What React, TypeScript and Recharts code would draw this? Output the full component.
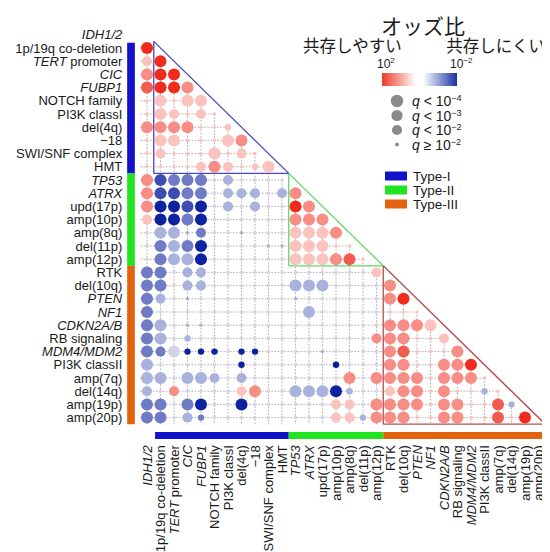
import React from "react";
import { ScatterChart, Scatter, XAxis, YAxis, ReferenceLine, ReferenceArea } from "recharts";

// ---------- data ----------
// "_text_" marks italic parts of a label
const alterations = [
  "_IDH1/2_", "1p/19q co-deletion", "_TERT_ promoter", "_CIC_", "_FUBP1_", "NOTCH family",
  "PI3K classI", "del(4q)", "\u221218", "SWI/SNF complex", "HMT", "_TP53_", "_ATRX_",
  "upd(17p)", "amp(10p)", "amp(8q)", "del(11p)", "amp(12p)", "RTK", "del(10q)", "_PTEN_",
  "_NF1_", "_CDKN2A/B_", "RB signaling", "_MDM4/MDM2_", "PI3K classII", "amp(7q)",
  "del(14q)", "amp(19p)", "amp(20p)",
];

// rows = alterations 2..30, columns = alterations 1..(row-1)
// digit d -> log10(odds ratio) = (d - 4) / 2
const oddsCodes = [
  "8",
  "58",
  "688",
  "7886",
  "55555",
  "555555",
  "6666555",
  "55555556",
  "555555555",
  "5555565555",
  "61222434444",
  "611224333436",
  "6001043434486",
  "50020444444666",
  "433324434445556",
  "4232044443355555",
  "42330444444555675",
  "224334444444444445",
  "2243344444433344446",
  "23434444444344444468",
  "244444444444344444555",
  "2343344444444444456665",
  "23434444444444444666555",
  "224000400444434444675556",
  "3444444044444404446655668",
  "33433343444444464666656665",
  "346444456443330344566565535",
  "2242044044444455466665665573",
  "22432444444444553666556655758",
];

// significance class: 3 q<1e-4, 2 q<1e-3, 1 q<1e-2, 0 q>=1e-2
const qCodes = [
  "3",
  "23",
  "333",
  "3333",
  "03033",
  "032020",
  "3333001",
  "03300033",
  "020003020",
  "0000232013",
  "33333020000",
  "333330222023",
  "3333302020033",
  "23333000000333",
  "033020000003333",
  "0333300000033300",
  "03333000000333330",
  "330220000000000002",
  "3302200000033300003",
  "32000000000000000033",
  "300000000000300000000",
  "3300000000000000003333",
  "33010000000000000233002",
  "323111011000000000330003",
  "3000000100000010003300333",
  "33033202000000030333303330",
  "202000023003333100233030010",
  "3303300300000022033330330031",
  "33021000000000221333003300303",
];

const typeGroups = [
  { name: "Type-I", from: 1.5, barFrom: 1.6, to: 11.5, color: "#1212c8", line: "#4848b8" },
  { name: "Type-II", from: 11.5, barFrom: 11.5, to: 18.5, color: "#20e420", line: "#62d862" },
  { name: "Type-III", from: 18.5, barFrom: 18.5, to: 30.5, color: "#e2640e", line: "#b84c4c" },
];

const qLegend = [
  { sym: "<", exp: "\u22124", r: 6.2 },
  { sym: "<", exp: "\u22123", r: 5.6 },
  { sym: "<", exp: "\u22122", r: 5.1 },
  { sym: "\u2265", exp: "\u22122", r: 1.9 },
];

// ---------- layout / style ----------
const CHART_W = 542;
const CHART_H = 544;
const PLOT_LEFT = 132.25;
const PLOT_BOTTOM = 416.2;
const Y_AXIS_W = 130;
const X_AXIS_H = 125;
const MARGIN = {
  top: 20.2,
  right: 4.75,
  bottom: CHART_H - PLOT_BOTTOM - X_AXIS_H,
  left: PLOT_LEFT - Y_AXIS_W,
};
const LABEL_X = PLOT_LEFT - 18;
const LABEL_TOP = PLOT_BOTTOM + 21;
const LABEL_SIZE = 13;
const DOT_R = [1.8, 3.2, 5, 6];
const RED = [240, 42, 28];
const BLUE = [12, 34, 158];
const FONT = "'Liberation Sans', Arial, sans-serif";
const CJK = "'Noto Sans CJK JP', 'Noto Sans', sans-serif";

function mix(c: number[], t: number) {
  const ch = c.map((v) => Math.round(255 - (255 - v) * t));
  return `rgb(${ch[0]},${ch[1]},${ch[2]})`;
}
function oddsColor(code: number) {
  const v = (code - 4) / 2;
  if (v > 0) return mix(RED, Math.pow(v / 2, 0.9));
  if (v < 0) return mix(BLUE, Math.pow(-v / 2, 0.75));
  return "#d6d4e4";
}

const cells = oddsCodes.flatMap((row, i) =>
  row.split("").map((ch, j) => {
    const code = Number(ch);
    const q = Number((qCodes[i] || "")[j] || 0);
    return { x: j + 1, y: i + 2, logOR: (code - 4) / 2, q, r: DOT_R[q], fill: oddsColor(code) };
  })
);

const N = alterations.length;
const tickValues = alterations.map((_, i) => i + 1);
const rowLines = tickValues.filter((v) => v >= 2).map((v) => [{ x: 0.5, y: v }, { x: v - 1, y: v }]);
const colLines = tickValues.filter((v) => v < N).map((v) => [{ x: v, y: v + 1 }, { x: v, y: N + 0.5 }]);

function parts(label: string) {
  return label.split("_").map((s, k) =>
    s ? (
      <tspan key={k} fontStyle={k % 2 ? "italic" : "normal"} style={{ whiteSpace: "pre" }}>
        {s}
      </tspan>
    ) : null
  );
}

const LeftTick = (props: any) => {
  const { y, payload } = props;
  const label = alterations[payload.value - 1];
  if (!label) return null;
  return (
    <text x={LABEL_X} y={y} dy="0.36em" textAnchor="end" fontSize={LABEL_SIZE} fill="#1a1a1a" fontFamily={FONT}>
      {parts(label)}
    </text>
  );
};

const BottomTick = (props: any) => {
  const { x, payload } = props;
  const label = alterations[payload.value - 1];
  if (!label) return null;
  return (
    <text
      transform={`translate(${x},${LABEL_TOP}) rotate(-90)`}
      dy="0.36em"
      textAnchor="end"
      fontSize={LABEL_SIZE}
      fill="#1a1a1a"
      fontFamily={FONT}
    >
      {parts(label)}
    </text>
  );
};

const renderDot = (p: any) => <circle cx={p.cx} cy={p.cy} r={p.payload.r} fill={p.payload.fill} />;

function Legend() {
  return (
    <svg
      width={CHART_W}
      height={CHART_H}
      style={{ position: "absolute", left: 0, top: 0, pointerEvents: "none" }}
    >
      <defs>
        <linearGradient id="orGrad" x1="0" x2="1" y1="0" y2="0">
          <stop offset="0" stopColor="#f03a24" />
          <stop offset="0.45" stopColor="#ffffff" />
          <stop offset="0.55" stopColor="#ffffff" />
          <stop offset="1" stopColor="#1a30a6" />
        </linearGradient>
      </defs>
      <text x={415} y={26} textAnchor="middle" fontSize={21} fontFamily={CJK} fill="#1a1a1a">
        オッズ比
      </text>
      <text x={295} y={44} fontSize={16.5} fontFamily={CJK} fill="#1a1a1a">
        共存しやすい
      </text>
      <text x={537} y={44} textAnchor="end" fontSize={16.5} fontFamily={CJK} fill="#1a1a1a">
        共存しにくい
      </text>
      <text x={369} y={60} fontSize={12} fontFamily={FONT} fill="#1a1a1a">
        10<tspan dy={-5} fontSize={8}>2</tspan>
      </text>
      <text x={442} y={60} fontSize={12} fontFamily={FONT} fill="#1a1a1a">
        10<tspan dy={-5} fontSize={8}>{"\u22122"}</tspan>
      </text>
      <rect x={374} y={65} width={75} height={13} fill="url(#orGrad)" />
      {qLegend.map((d, i) => (
        <g key={i}>
          <circle cx={389} cy={93 + i * 14.5} r={d.r} fill="#8a8a8a" />
          <text x={404} y={93 + i * 14.5 + 5} fontSize={14} fontFamily={FONT} fill="#1a1a1a">
            <tspan fontStyle="italic">q</tspan>
            {` ${d.sym} 10`}
            <tspan dy={-5} fontSize={9}>
              {d.exp}
            </tspan>
          </text>
        </g>
      ))}
      {typeGroups.map((g, i) => (
        <g key={g.name}>
          <rect x={377} y={163.5 + i * 14} width={22} height={9} fill={g.color} />
          <text x={405} y={168 + i * 14 + 5} fontSize={13.5} fontFamily={FONT} fill="#1a1a1a">
            {g.name}
          </text>
        </g>
      ))}
    </svg>
  );
}

export default function App() {
  return (
    <div style={{ position: "relative", width: CHART_W, height: CHART_H }}>
      <ScatterChart width={CHART_W} height={CHART_H} margin={MARGIN}>
        <XAxis
          type="number"
          dataKey="x"
          domain={[0.5, N + 0.5]}
          allowDataOverflow
          ticks={tickValues}
          interval={0}
          tick={<BottomTick />}
          tickLine={false}
          axisLine={false}
          height={X_AXIS_H}
        />
        <YAxis
          type="number"
          dataKey="y"
          domain={[0.5, N + 0.5]}
          allowDataOverflow
          reversed
          ticks={tickValues}
          interval={0}
          tick={<LeftTick />}
          tickLine={false}
          axisLine={false}
          width={Y_AXIS_W}
        />
        {rowLines.map((seg, i) => (
          <ReferenceLine
            key={`r${i}`}
            segment={seg}
            stroke="#8e8e8e"
            strokeWidth={0.7}
            strokeDasharray="1.6 1.6"
            ifOverflow="visible"
          />
        ))}
        {colLines.map((seg, i) => (
          <ReferenceLine
            key={`c${i}`}
            segment={seg}
            stroke="#8e8e8e"
            strokeWidth={0.7}
            strokeDasharray="1.6 1.6"
            ifOverflow="visible"
          />
        ))}
        {typeGroups.map((g) => (
          <ReferenceArea
            key={`lb${g.name}`}
            x1={-0.47}
            x2={0.1}
            y1={g.barFrom}
            y2={g.to}
            fill={g.color}
            fillOpacity={1}
            stroke="none"
            ifOverflow="visible"
          />
        ))}
        {typeGroups.map((g) => (
          <ReferenceArea
            key={`bb${g.name}`}
            x1={g.barFrom}
            x2={g.to}
            y1={31.1}
            y2={31.62}
            fill={g.color}
            fillOpacity={1}
            stroke="none"
            ifOverflow="visible"
          />
        ))}
        <Scatter data={cells} shape={renderDot} isAnimationActive={false} />
        {typeGroups.map((g) => (
          <ReferenceLine
            key={`t1${g.name}`}
            segment={[{ x: g.from, y: g.from }, { x: g.from, y: g.to }]}
            stroke={g.line}
            strokeWidth={1.3}
            ifOverflow="visible"
          />
        ))}
        {typeGroups.map((g) => (
          <ReferenceLine
            key={`t2${g.name}`}
            segment={[{ x: g.from, y: g.to }, { x: g.to, y: g.to }]}
            stroke={g.line}
            strokeWidth={1.3}
            ifOverflow="visible"
          />
        ))}
        {typeGroups.map((g) => (
          <ReferenceLine
            key={`t3${g.name}`}
            segment={[{ x: g.from, y: g.from }, { x: g.to, y: g.to }]}
            stroke={g.line}
            strokeWidth={1.3}
            ifOverflow="visible"
          />
        ))}
      </ScatterChart>
      <Legend />
    </div>
  );
}
